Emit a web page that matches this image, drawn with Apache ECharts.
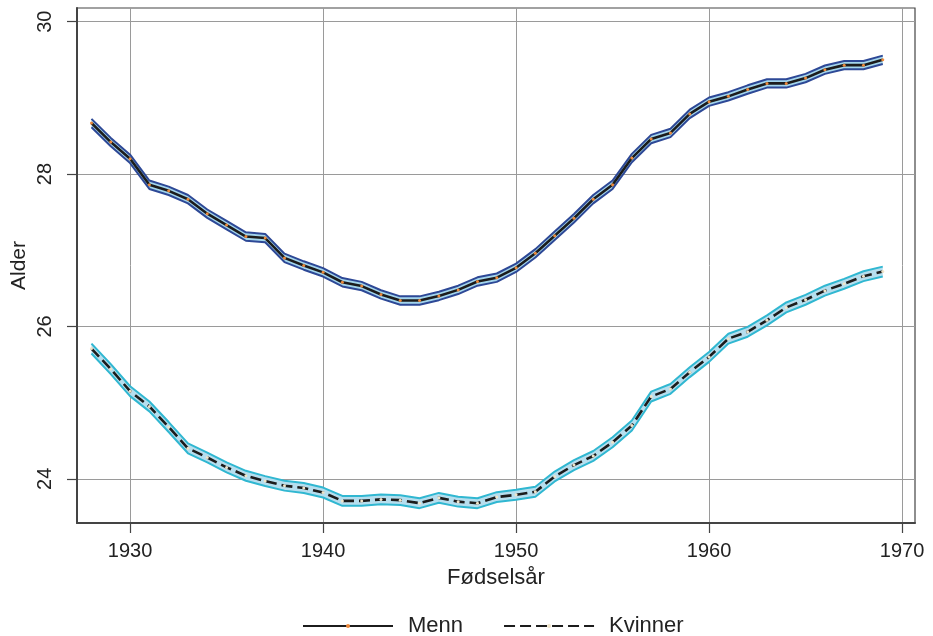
<!DOCTYPE html>
<html><head><meta charset="utf-8">
<script src="https://cdn.jsdelivr.net/npm/echarts@6/dist/echarts.min.js"></script>
<style>html,body{margin:0;padding:0;background:#fff}#c{width:933px;height:636px}</style>
</head><body><div id="c"></div>
<script>
const years = [1928,1929,1930,1931,1932,1933,1934,1935,1936,1937,1938,1939,1940,1941,1942,1943,1944,1945,1946,1947,1948,1949,1950,1951,1952,1953,1954,1955,1956,1957,1958,1959,1960,1961,1962,1963,1964,1965,1966,1967,1968,1969];
const menn = [28.67,28.42,28.20,27.86,27.78,27.67,27.48,27.33,27.18,27.16,26.90,26.80,26.71,26.58,26.53,26.42,26.34,26.34,26.40,26.48,26.59,26.64,26.77,26.96,27.19,27.42,27.67,27.86,28.21,28.46,28.54,28.79,28.95,29.02,29.11,29.19,29.19,29.26,29.37,29.43,29.43,29.50];
const mennLow = [28.615,28.365,28.145,27.805,27.725,27.615,27.425,27.275,27.125,27.105,26.845,26.745,26.655,26.525,26.475,26.365,26.285,26.285,26.345,26.425,26.535,26.585,26.715,26.905,27.135,27.365,27.615,27.805,28.155,28.405,28.485,28.735,28.895,28.965,29.055,29.135,29.135,29.205,29.315,29.375,29.375,29.445];
const mennHigh = [28.725,28.475,28.255,27.915,27.835,27.725,27.535,27.385,27.235,27.215,26.955,26.855,26.765,26.635,26.585,26.475,26.395,26.395,26.455,26.535,26.645,26.695,26.825,27.015,27.245,27.475,27.725,27.915,28.265,28.515,28.595,28.845,29.005,29.075,29.165,29.245,29.245,29.315,29.425,29.485,29.485,29.555];
const kvinner = [25.71,25.44,25.15,24.95,24.68,24.40,24.28,24.15,24.04,23.97,23.91,23.88,23.82,23.71,23.71,23.73,23.72,23.68,23.75,23.70,23.68,23.76,23.79,23.83,24.03,24.18,24.30,24.48,24.70,25.08,25.18,25.40,25.60,25.84,25.93,26.08,26.25,26.35,26.47,26.56,26.66,26.72];
const kvinnerLow = [25.645,25.375,25.085,24.885,24.615,24.335,24.215,24.085,23.975,23.905,23.845,23.815,23.755,23.645,23.645,23.665,23.655,23.615,23.685,23.635,23.615,23.695,23.725,23.765,23.965,24.115,24.235,24.415,24.635,25.015,25.115,25.335,25.535,25.775,25.865,26.015,26.185,26.285,26.405,26.495,26.595,26.655];
const kvinnerHigh = [25.775,25.505,25.215,25.015,24.745,24.465,24.345,24.215,24.105,24.035,23.975,23.945,23.885,23.775,23.775,23.795,23.785,23.745,23.815,23.765,23.745,23.825,23.855,23.895,24.095,24.245,24.365,24.545,24.765,25.145,25.245,25.465,25.665,25.905,25.995,26.145,26.315,26.415,26.535,26.625,26.725,26.785];
const xTicks = [1930,1940,1950,1960,1970];
const yTicks = [24,26,28,30];
const seriesNames = ['Menn','Kvinner'];

const pairs = (vals) => years.map((y,i)=>[y, vals[i]]);
const FONT = "'Liberation Sans', Arial, sans-serif";

function band(id, lo, hi, edge, fill){
  const fillSeries = {
    type:'custom', name:id+'fill', silent:true, z:1,
    data: years.map((y,i)=>[y, lo[i], hi[i]]),
    encode:{x:0, y:[1,2]},
    renderItem: function(params, api){
      if (params.dataIndexInside !== 0) return null;
      const pts = [];
      for (let i=0;i<years.length;i++) pts.push(api.coord([years[i], hi[i]]));
      for (let i=years.length-1;i>=0;i--) pts.push(api.coord([years[i], lo[i]]));
      return {type:'polygon', shape:{points:pts}, style:{fill:fill, stroke:null}};
    }
  };
  const edgeLine = (vals) => ({type:'line', name:id+'edge', data:pairs(vals), symbol:'none', silent:true,
     lineStyle:{color:edge,width:2}, z:2});
  return [fillSeries, edgeLine(lo), edgeLine(hi)];
}

const chart = echarts.init(document.getElementById('c'));
chart.setOption({
  animation:false,
  textStyle:{fontFamily:FONT},
  grid:{left:77,right:18,top:8,bottom:113,show:true,borderColor:'#444',borderWidth:1.2,
        containLabel:false, outerBoundsMode:'none'},
  legend:{
    data:seriesNames, left:297, top:610, itemWidth:90, itemHeight:5, itemGap:40,
    textStyle:{fontFamily:FONT,fontSize:22,color:'#222',padding:[0,0,0,10]}
  },
  xAxis:{
    type:'value', min:1927.25, max:1970.67,
    name:'Fødselsår', nameLocation:'middle', nameGap:44, nameMoveOverlap:false,
    nameTextStyle:{fontFamily:FONT,fontSize:22,color:'#222'},
    axisLine:{show:true,lineStyle:{color:'#444',width:2}},
    axisTick:{show:true,customValues:xTicks,length:10,lineStyle:{color:'#444',width:1.2}},
    axisLabel:{customValues:xTicks,formatter:(v)=>String(v),fontFamily:FONT,fontSize:20,color:'#222',margin:18},
    splitLine:{show:true,lineStyle:{color:'#9a9a9a',width:1}}
  },
  yAxis:{
    type:'value', min:23.42, max:30.18,
    name:'Alder', nameLocation:'middle', nameGap:47, nameRotate:90, nameMoveOverlap:false,
    nameTextStyle:{fontFamily:FONT,fontSize:21,color:'#222'},
    axisLine:{show:true,lineStyle:{color:'#444',width:2}},
    axisTick:{show:true,customValues:yTicks,length:10,lineStyle:{color:'#444',width:1.2}},
    axisLabel:{customValues:yTicks,formatter:(v)=>String(v),rotate:90,fontFamily:FONT,fontSize:20,color:'#222',margin:22},
    splitLine:{show:true,lineStyle:{color:'#9a9a9a',width:1}}
  },
  series:[
    ...band('m', mennLow, mennHigh, '#2d4896', '#a3d5ec'),
    ...band('k', kvinnerLow, kvinnerHigh, '#30b7d1', '#b6deee'),
    {type:'line', name:seriesNames[0], data:pairs(menn), symbol:'circle', symbolSize:3, showSymbol:true,
     itemStyle:{color:'#ee8a3c'}, lineStyle:{color:'#1c1c1c',width:2.6}, z:5},
    {type:'line', name:seriesNames[1], data:pairs(kvinner), symbol:'circle', symbolSize:3, showSymbol:true,
     itemStyle:{color:'#efe3c8'}, lineStyle:{color:'#1c1c1c',width:2.6,type:[11,5]}, z:5}
  ]
});
</script></body></html>
